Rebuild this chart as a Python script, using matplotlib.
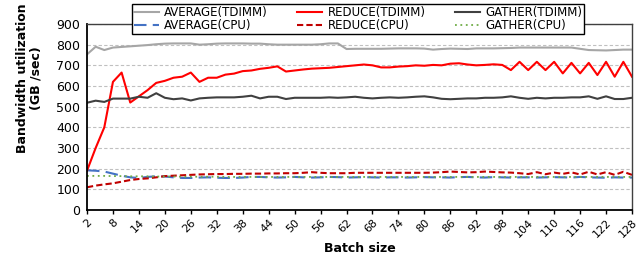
import matplotlib
matplotlib.use("Agg")
import matplotlib.pyplot as plt

batch = list(range(2, 129, 2))

avg_tdimm = [753, 790, 774, 786, 789, 792, 795, 798, 802, 805,
             806, 806, 806, 800, 802, 805, 806, 806, 806, 805,
             805, 802, 800, 800, 800, 800, 800, 802, 806, 806,
             779, 780, 780, 780, 780, 781, 782, 782, 782, 781,
             776, 779, 781, 780, 779, 782, 782, 782, 783, 784,
             786, 786, 786, 786, 786, 786, 786, 780, 774, 773,
             772, 774, 776, 776]
red_tdimm = [190, 300, 400, 620, 665, 520, 550, 580, 615, 625,
             640, 645, 665, 620, 640, 640, 655, 660, 672, 675,
             683, 688, 695, 670, 675, 680, 684, 686, 688, 692,
             696, 700, 704, 700, 690, 690, 694, 696, 700, 698,
             702, 700, 708, 710, 704, 700, 702, 705, 702, 677,
             717, 677, 717, 677, 717, 661, 712, 661, 712, 653,
             717, 645, 717, 645]
gat_tdimm = [519, 529, 523, 539, 539, 539, 548, 543, 565, 543,
             536, 540, 530, 540, 543, 545, 545, 545, 548, 553,
             540, 548, 548, 537, 543, 543, 543, 543, 545, 543,
             545, 548, 543, 540, 543, 545, 543, 545, 548, 550,
             545, 538, 536, 538, 540, 540, 543, 543, 545, 550,
             543, 538, 543, 540, 543, 543, 545, 545, 550, 538,
             550, 537, 537, 543]
avg_cpu = [192, 190, 186, 176, 166, 158, 155, 160, 163, 162,
           158, 155, 155, 157, 158, 156, 155, 155, 157, 160,
           160, 158, 157, 158, 160, 158, 157, 158, 160, 159,
           157, 158, 159, 158, 157, 158, 158, 157, 158, 159,
           158, 158, 157, 159, 160, 158, 157, 159, 158, 157,
           158, 158, 157, 158, 159, 158, 157, 160, 158, 157,
           156, 158, 157, 157]
red_cpu = [110, 118, 124, 129, 137, 145, 150, 153, 158, 164,
           166, 168, 170, 172, 173, 174, 174, 175, 175, 176,
           176, 177, 177, 178, 178, 180, 183, 180, 178, 178,
           178, 180, 180, 180, 180, 180, 180, 180, 180, 180,
           181, 183, 186, 184, 182, 183, 186, 184, 182, 181,
           178, 174, 183, 173, 181, 175, 182, 172, 185, 172,
           183, 170, 185, 170]
gat_cpu = [165, 165, 165, 164, 164, 163, 163, 163, 162, 162,
           162, 161, 161, 161, 161, 161, 160, 160, 160, 160,
           160, 160, 160, 160, 160, 160, 160, 160, 160, 160,
           160, 160, 160, 160, 160, 160, 160, 160, 160, 160,
           160, 160, 160, 160, 160, 160, 160, 160, 160, 160,
           160, 160, 160, 160, 160, 160, 160, 160, 160, 160,
           160, 160, 160, 160]

plt.rcParams['font.family'] = 'DejaVu Sans'

fig = plt.figure(figsize=(6.39, 2.62), dpi=100)
ax = fig.add_axes([87 / 639, 1 - 210 / 262, 545 / 639, 186 / 262])

x = list(range(len(batch)))
ax.plot(x, avg_tdimm, color='#a6a6a6', lw=1.5, label='AVERAGE(TDIMM)')
ax.plot(x, avg_cpu, color='#4472c4', lw=1.5, ls=(0, (6, 3)), label='AVERAGE(CPU)')
ax.plot(x, red_tdimm, color='#ff0000', lw=1.5, label='REDUCE(TDIMM)')
ax.plot(x, red_cpu, color='#c00000', lw=1.5, ls=(0, (3, 1.5)), label='REDUCE(CPU)')
ax.plot(x, gat_tdimm, color='#404040', lw=1.5, label='GATHER(TDIMM)')
ax.plot(x, gat_cpu, color='#70ad47', lw=1.3, ls=(0, (1, 2)), label='GATHER(CPU)')

ax.set_xlim(0, len(batch) - 1)
ax.set_ylim(0, 900)
ax.set_yticks(range(0, 901, 100))
ax.set_xticks(x[::3])
ax.set_xticklabels([str(b) for b in batch[::3]], rotation=45, ha='right',
                   rotation_mode='anchor')
ax.tick_params(axis='x', length=3, width=1, labelsize=8, pad=2)
ax.tick_params(axis='y', length=0, labelsize=9, pad=5)

ax.grid(axis='y', color='#c0c0c0', ls=(0, (3, 2)), lw=0.8)
ax.set_axisbelow(True)
for s in ['left', 'bottom']:
    ax.spines[s].set_color('black')
    ax.spines[s].set_linewidth(1.3)
for s in ['top', 'right']:
    ax.spines[s].set_color('#404040')
    ax.spines[s].set_linewidth(1.0)

ax.set_xlabel('Batch size', fontsize=9, fontweight='bold', labelpad=2)
ax.set_ylabel('Bandwidth utilization\n(GB /sec)', fontsize=9,
              fontweight='bold', linespacing=1.1)
ax.yaxis.set_label_coords(-0.081, 0.71)

fig.legend(loc='upper center', bbox_to_anchor=(358 / 639, 1 - 4 / 262), ncol=3,
           fontsize=8.5, frameon=True, fancybox=False, edgecolor='black',
           framealpha=1, borderpad=0.15, handlelength=2.1, handletextpad=0.45,
           columnspacing=2.5, labelspacing=0.05, borderaxespad=0)

fig.savefig('out.png', dpi=100)
